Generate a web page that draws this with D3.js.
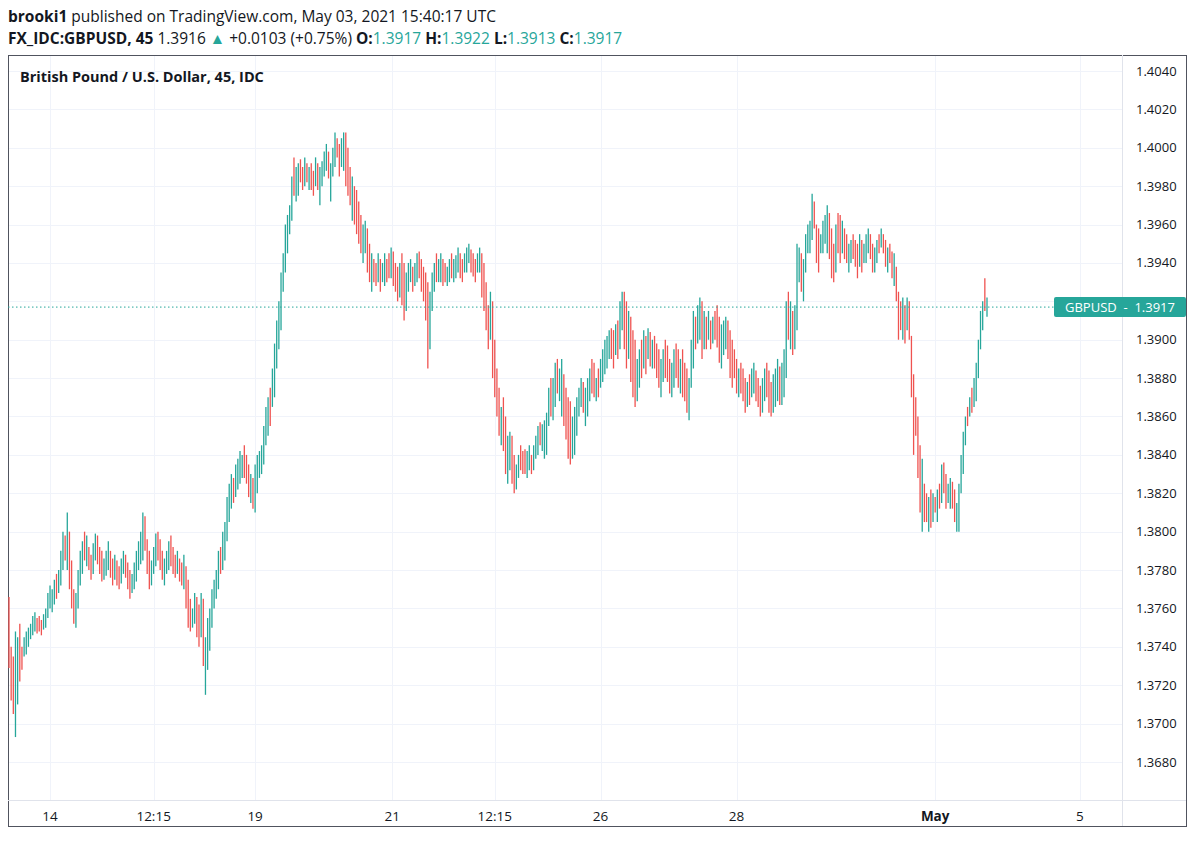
<!DOCTYPE html>
<html><head><meta charset="utf-8">
<script src="https://cdn.jsdelivr.net/npm/d3@7"></script>
<style>body{margin:0;background:#fff;font-family:"Open Sans","Noto Sans",sans-serif}</style>
</head><body>
<svg width="1200" height="842"></svg>
<script>
// bar highs / lows in pips above 1.0000 (3766 = 1.3766), direction u = close up, d = close down
const highs = [3766,3740,3735,3748,3745,3752,3740,3745,3748,3750, 3752,3756,3758,3755,3756,3754,3757,3760,3768,3772,
 3770,3775,3778,3780,3790,3800,3798,3810,3800,3785, 3770,3768,3780,3790,3795,3800,3798,3792,3788,3794,
 3799,3798,3792,3790,3786,3790,3795,3790,3786,3788, 3785,3782,3786,3790,3788,3784,3780,3778,3784,3790,
 3795,3800,3810,3808,3796,3790,3785,3792,3799,3800, 3796,3790,3786,3790,3795,3798,3792,3788,3790,3786,
 3784,3788,3782,3775,3765,3760,3768,3766,3762,3768, 3765,3745,3755,3760,3770,3775,3780,3790,3792,3800,
 3805,3818,3825,3830,3828,3835,3838,3842,3840,3845, 3840,3835,3830,3828,3835,3840,3842,3845,3855,3865,
 3870,3875,3885,3898,3910,3920,3935,3945,3960,3965, 3970,3985,3995,3990,3992,3994,3990,3995,3992,3990,
 3992,3988,3995,3992,3990,3993,3998,4002,3998,3992, 4000,4008,4005,4002,4005,4008,4008,4000,3990,3985,
 3980,3978,3972,3965,3960,3962,3958,3950,3945,3942, 3940,3945,3942,3940,3945,3942,3945,3948,3946,3940,
 3938,3940,3945,3940,3935,3940,3942,3938,3940,3945, 3946,3942,3938,3935,3930,3925,3935,3940,3945,3942,
 3945,3942,3940,3938,3942,3945,3942,3944,3948,3945, 3942,3945,3948,3950,3947,3945,3942,3945,3948,3945,
 3940,3930,3918,3925,3920,3900,3885,3875,3865,3870, 3860,3850,3852,3850,3840,3835,3840,3845,3842,3843,
 3842,3845,3840,3845,3850,3855,3857,3856,3858,3862, 3875,3880,3880,3888,3890,3885,3890,3882,3875,3870,
 3868,3860,3865,3870,3875,3880,3878,3875,3880,3885, 3890,3888,3880,3885,3890,3895,3900,3902,3905,3906,
 3905,3908,3910,3920,3925,3925,3920,3915,3912,3905, 3900,3890,3895,3900,3905,3902,3906,3904,3900,3902,
 3898,3895,3890,3895,3900,3897,3890,3888,3895,3898, 3895,3890,3895,3888,3885,3880,3900,3915,3912,3918,
 3922,3920,3915,3912,3915,3910,3912,3915,3918,3912, 3908,3910,3912,3910,3905,3900,3895,3890,3885,3888,
 3885,3880,3878,3882,3885,3888,3884,3880,3876,3880, 3885,3888,3884,3878,3882,3885,3890,3886,3888,3895,
 3920,3925,3920,3915,3918,3950,3948,3945,3942,3955, 3960,3962,3976,3972,3960,3958,3955,3962,3965,3970,
 3966,3958,3950,3960,3966,3965,3962,3958,3955,3950, 3952,3955,3952,3950,3955,3952,3950,3955,3958,3955,
 3950,3948,3952,3955,3958,3955,3952,3948,3950,3946, 3945,3938,3925,3920,3922,3918,3922,3920,3902,3882,
 3870,3860,3845,3838,3825,3820,3818,3822,3820,3818, 3822,3825,3835,3836,3830,3825,3828,3826,3822,3815,
 3825,3840,3852,3860,3865,3870,3875,3880,3888,3900, 3915,3920,3932,3922]
const lows = [3729,3712,3705,3693,3710,3722,3728,3735,3736,3740, 3744,3746,3748,3747,3748,3746,3749,3750,3755,3760,
 3758,3762,3765,3768,3772,3780,3785,3780,3770,3760, 3752,3750,3760,3772,3778,3785,3782,3780,3775,3778,
 3785,3783,3778,3774,3775,3777,3780,3776,3772,3775, 3772,3770,3773,3778,3776,3770,3765,3768,3770,3774,
 3780,3783,3785,3790,3778,3770,3772,3778,3782,3785, 3780,3775,3772,3778,3780,3782,3778,3776,3778,3774,
 3772,3770,3760,3750,3748,3750,3752,3745,3740,3745, 3730,3715,3728,3738,3750,3760,3765,3770,3778,3780,
 3785,3795,3805,3812,3815,3818,3822,3825,3828,3828, 3825,3818,3815,3812,3810,3820,3828,3830,3835,3845,
 3850,3855,3865,3870,3885,3895,3905,3925,3935,3945, 3955,3962,3975,3972,3975,3982,3978,3980,3982,3978,
 3978,3975,3980,3978,3970,3980,3985,3988,3984,3972, 3985,3990,3995,3985,3990,3988,3980,3975,3970,3962,
 3960,3955,3950,3945,3940,3945,3935,3930,3925,3930, 3928,3930,3925,3930,3928,3930,3932,3932,3928,3925,
 3920,3922,3918,3910,3915,3925,3930,3925,3928,3930, 3932,3925,3920,3910,3885,3895,3915,3925,3930,3930,
 3930,3928,3930,3928,3930,3932,3930,3932,3935,3932, 3930,3935,3935,3940,3935,3933,3930,3935,3935,3922,
 3915,3905,3895,3900,3880,3870,3860,3850,3845,3842, 3830,3825,3832,3825,3820,3822,3828,3832,3830,3830,
 3828,3832,3830,3832,3838,3840,3845,3842,3838,3840, 3855,3860,3858,3865,3872,3868,3860,3855,3848,3838,
 3835,3838,3840,3850,3860,3865,3862,3855,3860,3868, 3872,3870,3868,3870,3875,3878,3882,3885,3890,3890,
 3885,3892,3890,3895,3905,3895,3885,3890,3878,3870, 3865,3868,3875,3880,3885,3882,3890,3886,3885,3885,
 3880,3875,3870,3878,3880,3878,3872,3870,3875,3880, 3875,3872,3870,3868,3862,3858,3875,3885,3895,3898,
 3900,3890,3895,3895,3900,3895,3898,3900,3896,3888, 3885,3892,3895,3890,3880,3875,3880,3872,3870,3872,
 3868,3862,3865,3866,3870,3872,3868,3865,3860,3862, 3868,3870,3862,3860,3862,3865,3868,3866,3866,3870,
 3880,3900,3895,3892,3895,3905,3930,3925,3920,3935, 3945,3945,3952,3958,3940,3935,3945,3945,3950,3945,
 3942,3932,3930,3935,3945,3940,3945,3942,3940,3935, 3940,3942,3938,3932,3938,3935,3940,3940,3945,3942,
 3935,3935,3940,3945,3948,3945,3938,3935,3940,3932, 3928,3920,3900,3905,3900,3898,3905,3900,3870,3840,
 3850,3828,3810,3800,3805,3805,3800,3802,3805,3810, 3805,3812,3815,3820,3812,3815,3812,3812,3805,3800,
 3800,3820,3830,3845,3855,3860,3862,3865,3868,3880, 3895,3905,3915,3912]
const dirs = ["ddduudduuu", "uuuddduuuu", "uuduuududd", "duuuududdu", "uddduuuddu",
  "dduuddduuu", "uuuddduuud", "dduuudddud", "duddduuddu", "duuuuuuudu",
  "uuuuduuuud", "dduduuuuuu", "uduuuuuuuu", "uuduuddudu", "dduduuuudu",
  "uudduudddu", "dddduuddud", "duduuddudd", "dudduuuduu", "ddddduuudu",
  "udduuduuud", "duuuddduud", "ddduddddud", "duudduuddd", "uuduuuduuu",
  "uduuduuddd", "duuuuuduuu", "dduduuuuud", "duduuddudd", "duudududud",
  "dduuddduud", "duddduuudu", "ududududdd", "uuudddddud", "dduduudddu",
  "uddduuuduu", "ududuuuduu", "uuuddduuuu", "dddudduddu", "uddduduuud",
  "duududdudd", "udddududdd", "ddduddudud", "ududduuddu", "uuuududuuu", "uudu"].join("")
const tickIdx = [19, 67, 114, 177.5, 225, 274, 337, 429, 496]
const tickLabels = ["14", "12:15", "19", "21", "12:15", "26", "28", "May", "5"]
const priceTicks = d3.range(0, 19).map(i => 1.3680 + i * 0.002)
const lastPrice = 1.3917

const svg = d3.select("svg")
const teal = "#26a69a", red = "#ef5350"
const plotL = 8, plotR = 1122, plotT = 55, plotB = 800

const x = d3.scaleLinear().domain([0, highs.length - 1]).range([9, 987])
const y = d3.scaleLinear().domain([1.3680, 1.4040]).range([762, 71])

// grid
svg.append("g").selectAll("line").data(priceTicks).join("line")
  .attr("x1", plotL).attr("x2", plotR)
  .attr("y1", d => Math.round(y(d)) + 0.5).attr("y2", d => Math.round(y(d)) + 0.5)
  .attr("stroke", "#f0f3fa")
svg.append("g").selectAll("line").data(tickIdx).join("line")
  .attr("x1", d => Math.round(x(d)) + 0.5).attr("x2", d => Math.round(x(d)) + 0.5)
  .attr("y1", plotT).attr("y2", plotB)
  .attr("stroke", "#f0f3fa")

// frame
svg.append("rect").attr("x", plotL + 0.5).attr("y", plotT + 0.5)
  .attr("width", 1186 - plotL).attr("height", 826 - plotT)
  .attr("fill", "none").attr("stroke", "#50535e")
svg.append("line").attr("x1", plotR + 0.5).attr("x2", plotR + 0.5).attr("y1", plotT).attr("y2", 826).attr("stroke", "#e0e3eb")
svg.append("line").attr("x1", plotL).attr("x2", 1186).attr("y1", plotB + 0.5).attr("y2", plotB + 0.5).attr("stroke", "#e0e3eb")

// bars
const bars = highs.map((h, i) => ({i, h: 1 + h / 10000, l: 1 + lows[i] / 10000, up: dirs[i] !== "d"}))
svg.append("g").selectAll("line").data(bars).join("line")
  .attr("x1", d => x(d.i)).attr("x2", d => x(d.i))
  .attr("y1", d => y(d.h)).attr("y2", d => y(d.l))
  .attr("stroke", d => d.up ? teal : red)
  .attr("stroke-width", 1.3)

// last price line
svg.append("line").attr("x1", plotL).attr("x2", plotR)
  .attr("y1", y(lastPrice)).attr("y2", y(lastPrice))
  .attr("stroke", teal).attr("stroke-dasharray", "1.5,2.5")

// price axis (label under the last-price box is hidden, as in the original)
svg.append("g").selectAll("text").data(priceTicks.filter(d => Math.abs(y(d) - y(lastPrice)) > 14)).join("text")
  .attr("x", 1136).attr("y", d => y(d) + 4.5)
  .attr("font-size", 13).attr("fill", "#131722")
  .text(d => d.toFixed(4))
svg.append("rect").attr("x", 1054).attr("y", y(lastPrice) - 10).attr("width", 132).attr("height", 20)
  .attr("rx", 2).attr("fill", teal)
svg.append("text").attr("x", 1120).attr("y", y(lastPrice) + 4.5).attr("text-anchor", "middle")
  .attr("font-size", 13).attr("fill", "#fff").attr("xml:space", "preserve")
  .text("GBPUSD  -  " + lastPrice.toFixed(4))

// time axis
svg.append("g").selectAll("text").data(tickIdx).join("text")
  .attr("x", d => x(d)).attr("y", 821).attr("text-anchor", "middle")
  .attr("font-size", 13.5).attr("fill", "#131722")
  .attr("font-weight", (d, i) => tickLabels[i] === "May" ? "bold" : null)
  .text((d, i) => tickLabels[i])

// titles
svg.append("text").attr("x", 20).attr("y", 82).attr("font-size", 14.5).attr("font-weight", "bold")
  .attr("fill", "#131722").text("British Pound / U.S. Dollar, 45, IDC")
const h1 = svg.append("text").attr("x", 8).attr("y", 22).attr("font-size", 15.5).attr("fill", "#131722")
h1.append("tspan").attr("font-weight", "bold").text("brooki1")
h1.append("tspan").text(" published on TradingView.com, May 03, 2021 15:40:17 UTC")
const h2 = svg.append("text").attr("x", 8).attr("y", 44).attr("font-size", 15.5).attr("fill", "#131722")
h2.append("tspan").attr("font-weight", "bold").text("FX_IDC:GBPUSD, 45")
h2.append("tspan").text(" 1.3916 ")
h2.append("tspan").attr("fill", teal).text("▲")
h2.append("tspan").text(" +0.0103 (+0.75%) ")
const ohlc = [["O:", "1.3917"], ["H:", "1.3922"], ["L:", "1.3913"], ["C:", "1.3917"]]
ohlc.forEach(([k, v]) => {
  h2.append("tspan").attr("font-weight", "bold").text(k)
  h2.append("tspan").attr("fill", teal).text(v + " ")
})
</script>
</body></html>
